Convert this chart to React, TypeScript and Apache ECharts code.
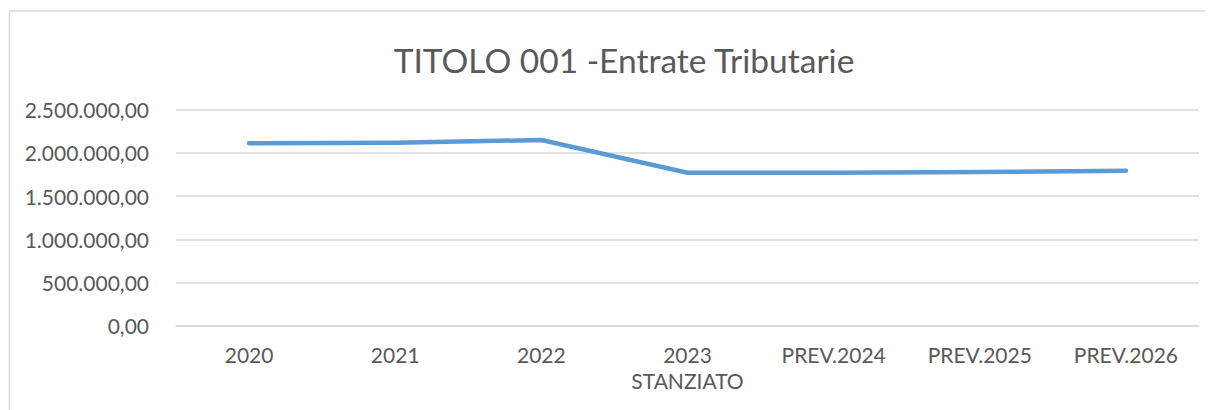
import React, { useEffect, useRef } from "react";
import * as echarts from "echarts";

const categories = ["2020", "2021", "2022", "2023\nSTANZIATO", "PREV.2024", "PREV.2025", "PREV.2026"];
const values = [2111000, 2118000, 2149000, 1771000, 1771000, 1779000, 1794000];
const titleText = "TITOLO 001 -Entrate Tributarie";

const FONT = "Lato, 'Open Sans', sans-serif";

function fmt(v: number): string {
  const s = Math.round(v).toString().replace(/\B(?=(\d{3})+(?!\d))/g, ".");
  return s + ",00";
}

export default function App() {
  const ref = useRef<HTMLDivElement>(null);
  useEffect(() => {
    if (!ref.current) return;
    const chart = echarts.init(ref.current, null, { renderer: "svg" });
    chart.setOption({
      animation: false,
      backgroundColor: "#ffffff",
      title: {
        text: titleText,
        left: 611,
        top: 30,
        textAlign: "center",
        textStyle: { fontFamily: FONT, fontSize: 33.5, fontWeight: "normal", color: "#595959" },
      },
      graphic: [
        {
          type: "rect",
          shape: { x: 1.5, y: 3, width: 1400, height: 600 },
          style: { fill: "none", stroke: "#d9d9d9", lineWidth: 1.5 },
          silent: true,
        },
      ],
      grid: { left: 168, right: 6, top: 101.7, bottom: 84.3 },
      xAxis: {
        type: "category",
        data: categories,
        boundaryGap: true,
        axisLine: { show: true, lineStyle: { color: "#d9d9d9", width: 1.5 } },
        axisTick: { show: false },
        axisLabel: {
          fontFamily: FONT,
          fontSize: 21,
          color: "#595959",
          margin: 16,
          lineHeight: 26,
          interval: 0,
        },
      },
      yAxis: {
        type: "value",
        min: 0,
        max: 2500000,
        interval: 500000,
        axisLine: { show: false },
        axisTick: { show: false },
        splitLine: { lineStyle: { color: "#d9d9d9", width: 1.5 } },
        axisLabel: {
          fontFamily: FONT,
          fontSize: 21,
          color: "#595959",
          margin: 27,
          formatter: (v: number) => fmt(v),
        },
      },
      series: [
        {
          type: "line",
          data: values,
          showSymbol: false,
          symbol: "none",
          lineStyle: { color: "#5b9bd5", width: 4.5, cap: "round", join: "round" },
        },
      ],
    });
    return () => chart.dispose();
  }, []);
  return <div ref={ref} style={{ width: 1197, height: 402 }} />;
}
